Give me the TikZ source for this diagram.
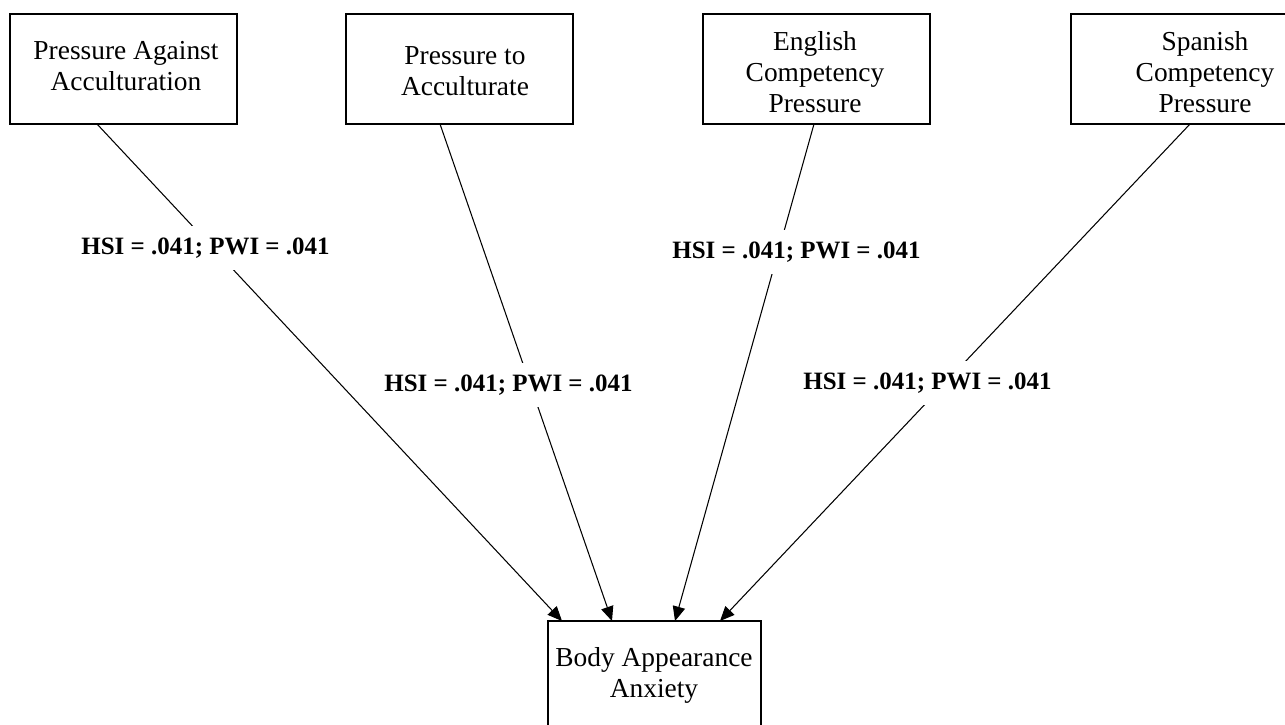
\documentclass[tikz,border=0pt]{standalone}
\usepackage{fontspec}
\setmainfont{Liberation Serif}
\usetikzlibrary{arrows.meta}

\begin{document}
\begin{tikzpicture}[x=0.2mm,y=-0.2mm,
    box/.style={draw,line width=0.7pt,inner sep=0pt,outer sep=0pt,minimum height=22mm},
    boxtext/.style={align=center,font=\fontsize{15.6}{17.6}\selectfont},
    coef/.style={fill=white,inner xsep=1pt,inner ysep=2.4mm,font=\fontsize{14.2}{16}\selectfont\bfseries},
    path/.style={line width=0.6pt,-{Triangle[length=2.9mm,width=2.5mm]}}]
  \useasboundingbox (0,0) rectangle (1285,724);

  % boxes
  \node[box,minimum width=45.4mm] (pa)  at (123.5,69) {};
  \node[box,minimum width=45.4mm] (pta) at (459.5,69) {};
  \node[box,minimum width=45.4mm] (ecp) at (816.5,69) {};
  \node[box,minimum width=53.6mm] (scp) at (1205,69) {};
  \node[box,minimum width=42.6mm,minimum height=26mm] (baa) at (654.5,686) {};

  \node[boxtext] (patext)  at (126,66)  {Pressure Against\\Acculturation};
  \node[boxtext] (ptatext) at (465,71)  {Pressure to\\Acculturate};
  \node[boxtext] (ecptext) at (815,72)  {English\\Competency\\Pressure};
  \node[boxtext] (scptext) at (1205,72) {Spanish\\Competency\\Pressure};
  \node[boxtext] (baatext) at (654,675) {Body Appearance\\Anxiety};

  % paths
  \draw[path] ([xshift=-5.3mm]pa.south)  -- ([xshift=-18.5mm]baa.north);
  \draw[path] ([xshift=-3.9mm]pta.south) -- ([xshift=-8.5mm]baa.north);
  \draw[path] ([xshift=-0.5mm]ecp.south) -- ([xshift=4.1mm]baa.north);
  \draw[path] ([xshift=-3mm]scp.south)   -- ([xshift=13.1mm]baa.north);

  \node[coef] (c1) at (205.5,248) {HSI = .041; PWI = .041};
  \node[coef] (c2) at (508.5,385) {HSI = .041; PWI = .041};
  \node[coef] (c3) at (796.5,252) {HSI = .041; PWI = .041};
  \node[coef] (c4) at (927.5,383) {HSI = .041; PWI = .041};
\end{tikzpicture}
\end{document}
